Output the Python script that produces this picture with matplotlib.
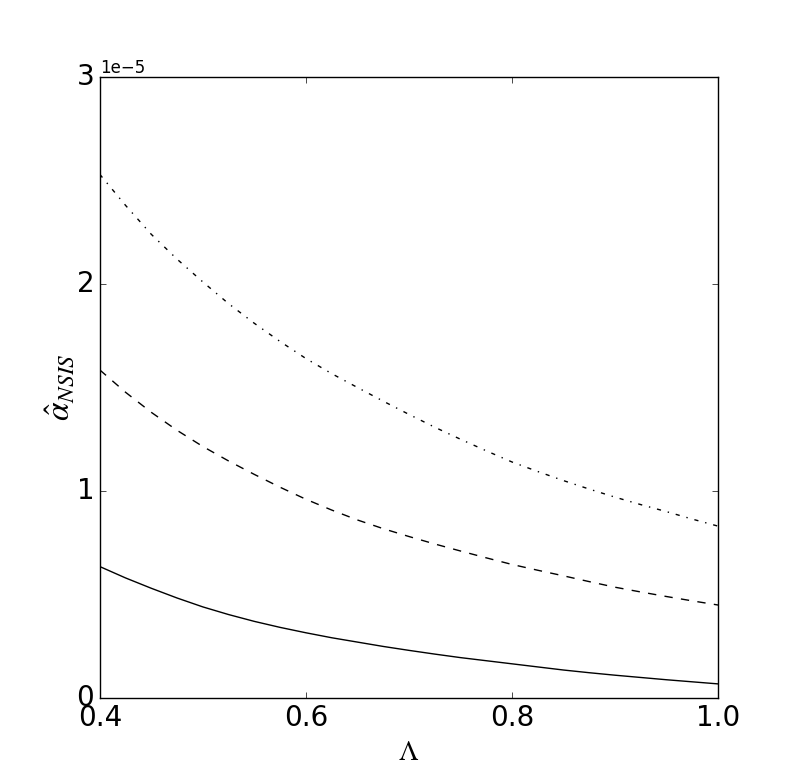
import matplotlib
matplotlib.use("Agg")
import matplotlib.pyplot as plt
import numpy as np

plt.style.use('classic')
plt.rcParams['mathtext.fontset'] = 'stix'
plt.rcParams['figure.facecolor'] = 'white'
plt.rcParams['savefig.facecolor'] = 'white'

lam = [0.400, 0.425, 0.450, 0.475, 0.500, 0.525, 0.550, 0.575, 0.600, 0.625, 0.650, 0.675,
       0.700, 0.725, 0.750, 0.775, 0.800, 0.825, 0.850, 0.875, 0.900, 0.925, 0.950, 0.975, 1.000]
alpha_solid = [0.635, 0.58, 0.53, 0.483, 0.44, 0.403, 0.37, 0.341, 0.315, 0.291, 0.27, 0.249,
               0.23, 0.212, 0.195, 0.18, 0.165, 0.15, 0.135, 0.122, 0.11, 0.099, 0.088, 0.078, 0.068]
alpha_dashed = [1.585, 1.477, 1.38, 1.293, 1.215, 1.145, 1.08, 1.018, 0.96, 0.908, 0.86, 0.818,
                0.78, 0.744, 0.71, 0.677, 0.645, 0.617, 0.59, 0.562, 0.535, 0.512, 0.49, 0.469, 0.449]
alpha_dashdot = [2.53, 2.38, 2.24, 2.12, 2.01, 1.905, 1.81, 1.722, 1.64, 1.567, 1.50, 1.434,
                 1.37, 1.308, 1.25, 1.194, 1.14, 1.094, 1.05, 1.009, 0.97, 0.934, 0.90, 0.864, 0.83]
scale = 1e-5

fig = plt.figure(figsize=(7.98, 7.77), dpi=100)
ax = fig.add_axes([0.125, 0.1017, 0.775, 0.7992])

ax.plot(lam, np.array(alpha_solid) * scale, 'k-')
ax.plot(lam, np.array(alpha_dashed) * scale, 'k--')
ax.plot(lam, np.array(alpha_dashdot) * scale, 'k-.')

ax.set_xlim(0.4, 1.0)
ax.set_ylim(0, 3e-5)
ax.set_xticks([0.4, 0.6, 0.8, 1.0])
ax.set_yticks([0, 1e-5, 2e-5, 3e-5])
ax.ticklabel_format(axis='y', style='sci', scilimits=(-3, 3), useOffset=False)
ax.tick_params(labelsize=20)
ax.yaxis.get_offset_text().set_fontsize(12)
ax.set_xlabel(r'$\Lambda$', fontsize=20)
ax.set_ylabel(r'$\hat{\alpha}_{NSIS}$', fontsize=24)
ax.yaxis.set_label_coords(-0.037, 0.5)

fig.savefig('out.png', dpi=100)
